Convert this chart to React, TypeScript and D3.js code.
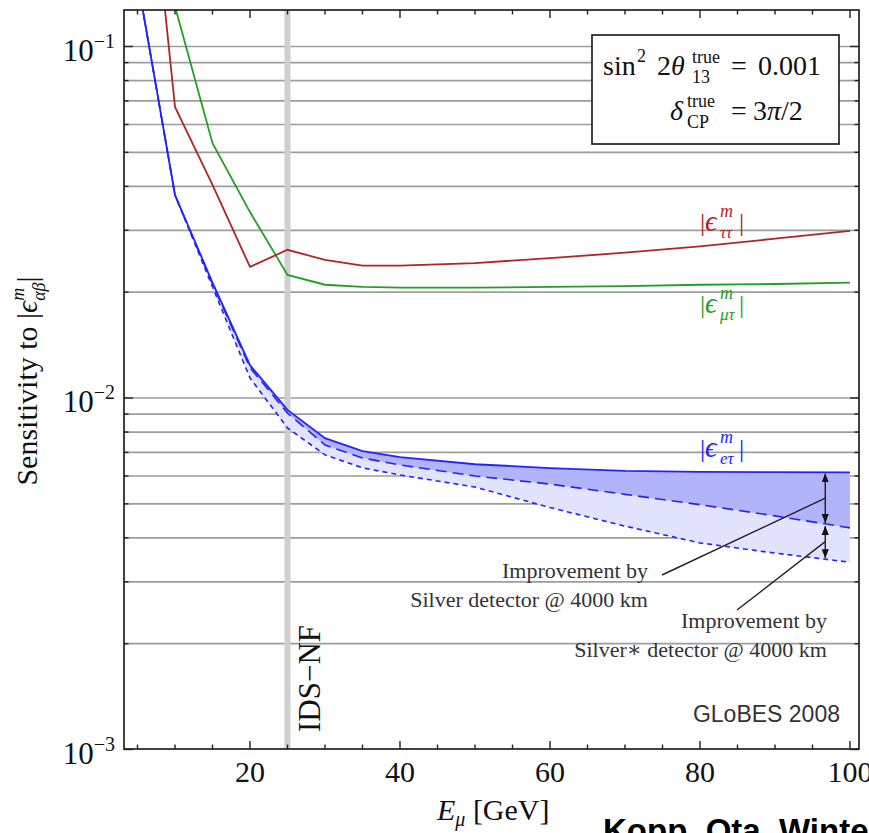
import React from 'react';
import * as d3 from 'd3';

// ---------------- data ----------------
const energies = [5, 10, 15, 20, 25, 30, 35, 40, 50, 60, 70, 80, 90, 100];
const epsTauTau = [0.73, 0.0673, 0.0404, 0.0236, 0.0264, 0.0247, 0.0238, 0.0238, 0.0242, 0.025, 0.0259, 0.027, 0.0284, 0.0299];
const epsMuTau = [0.9, 0.13, 0.0531, 0.0338, 0.0224, 0.021, 0.0207, 0.0206, 0.0206, 0.0207, 0.0208, 0.021, 0.0211, 0.0213];
const epsETau = [0.155, 0.0378, 0.0213, 0.0124, 0.00925, 0.00769, 0.00706, 0.00679, 0.00648, 0.00632, 0.0062, 0.00616, 0.00615, 0.00614];
const epsETauSilver = [0.155, 0.0378, 0.0211, 0.0122, 0.00906, 0.00735, 0.00675, 0.00645, 0.006, 0.00569, 0.00532, 0.00497, 0.00462, 0.00427];
const epsETauSilverStar = [0.155, 0.0378, 0.0207, 0.0114, 0.00822, 0.00689, 0.00633, 0.00604, 0.00558, 0.00488, 0.00432, 0.00387, 0.00362, 0.00341];
const xTickLabels = [20, 40, 60, 80, 100];
const xMinorTicks = [5, 10, 15, 20, 25, 30, 35, 40, 45, 50, 55, 60, 65, 70, 75, 80, 85, 90, 95, 100];
const yDecades = [1e-3, 1e-2, 1e-1];
const yDecadeExponents = ['−3', '−2', '−1'];
const idsNfEnergy = 25;
const arrowEnergy = 96.7;

// ---------------- layout ----------------
const W = 869, H = 833;
const L = 124, R = 859, T = 10, B = 749;
const x = d3.scaleLinear().domain([0, 100]).range([100, 850]);
const y = d3.scaleLog().domain([1e-3, 1e-1]).range([749.5, 46.5]);

const serif = "'Liberation Serif', 'Times New Roman', 'DejaVu Serif', serif";
const sans = "'Liberation Sans', Arial, Helvetica, sans-serif";
const RED = '#b32424';
const GREEN = '#22a022';
const BLUE = '#2323ff';

const gridVals: number[] = [];
for (let e = -3; e <= -1; e++) {
  for (let k = 1; k <= 9; k++) {
    const v = k * Math.pow(10, e);
    if (v > 1e-3 && y(v) >= T) gridVals.push(v);
  }
}

const line = d3.line<number>().x((_, i) => x(energies[i])).y((d) => y(d));
const area = (lo: number[], hi: number[]) =>
  d3.area<number>().x((_, i) => x(energies[i])).y0((_, i) => y(lo[i])).y1((_, i) => y(hi[i]))(hi) || '';

function interpLog(arr: number[], xv: number) {
  for (let i = 0; i < energies.length - 1; i++) {
    if (xv >= energies[i] && xv <= energies[i + 1]) {
      const t = (xv - energies[i]) / (energies[i + 1] - energies[i]);
      return Math.pow(10, Math.log10(arr[i]) * (1 - t) + Math.log10(arr[i + 1]) * t);
    }
  }
  return arr[arr.length - 1];
}

const EpsLabel = ({ cx, yb, sub, color }: { cx: number; yb: number; sub: string; color: string }) => (
  <g fill={color} fontFamily={serif}>
    <text x={cx - 23} y={yb} fontSize={26}>|</text>
    <text x={cx - 18} y={yb} fontSize={29} fontStyle="italic">ϵ</text>
    <text x={cx - 3} y={yb - 14} fontSize={18} fontStyle="italic">m</text>
    <text x={cx - 3} y={yb + 7} fontSize={17} fontStyle="italic">{sub}</text>
    <text x={cx + 16} y={yb} fontSize={26}>|</text>
  </g>
);

export default function App() {
  const ax = x(arrowEnergy);
  const yS = y(interpLog(epsETau, arrowEnergy));
  const yL = y(interpLog(epsETauSilver, arrowEnergy));
  const yStar = y(interpLog(epsETauSilverStar, arrowEnergy));
  const mid1 = (yS + yL) / 2;
  const mid2 = (yL + yStar) / 2;

  return (
    <svg width={W} height={H} style={{ position: 'absolute', left: 0, top: 0, display: 'block', background: '#fff' }}>
      <defs>
        <clipPath id="plotclip">
          <rect x={L} y={T} width={R - L} height={B - T} />
        </clipPath>
        <marker id="ah" viewBox="0 0 10 8" refX={10} refY={4} markerWidth={9} markerHeight={8} markerUnits="userSpaceOnUse" orient="auto-start-reverse">
          <path d="M0,0 L10,4 L0,8 z" fill="#111" />
        </marker>
      </defs>
      <rect x={0} y={0} width={W} height={H} fill="#fff" />

      {/* grid lines */}
      {gridVals.map((v, i) => (
        <line key={'g' + i} x1={L} x2={R} y1={y(v)} y2={y(v)} stroke="#9d9d9d" strokeWidth={1.7} />
      ))}

      {/* IDS-NF vertical band */}
      <line x1={x(idsNfEnergy)} x2={x(idsNfEnergy)} y1={T} y2={B} stroke="#cfcfcf" strokeWidth={6} />

      <g clipPath="url(#plotclip)">
        <path d={area(epsETauSilverStar, epsETau)} fill="#e2e3ff" />
        <path d={area(epsETauSilver, epsETau)} fill="#b2b4fb" />
        <path d={line(epsETauSilverStar) || ''} fill="none" stroke={BLUE} strokeWidth={1.6} strokeDasharray="5,4" />
        <path d={line(epsETauSilver) || ''} fill="none" stroke={BLUE} strokeWidth={1.6} strokeDasharray="11,6" />
        <path d={line(epsETau) || ''} fill="none" stroke={BLUE} strokeWidth={1.8} />
        <path d={line(epsMuTau) || ''} fill="none" stroke={GREEN} strokeWidth={1.8} />
        <path d={line(epsTauTau) || ''} fill="none" stroke={RED} strokeWidth={1.8} />
      </g>

      {/* curve labels */}
      <EpsLabel cx={723} yb={231} sub="ττ" color={RED} />
      <EpsLabel cx={723} yb={313} sub="μτ" color={GREEN} />
      <EpsLabel cx={723} yb={457} sub="eτ" color={BLUE} />

      {/* improvement arrows */}
      <line x1={ax} x2={ax} y1={yS + 1} y2={yL - 1} stroke="#111" strokeWidth={1.3} markerStart="url(#ah)" markerEnd="url(#ah)" />
      <line x1={ax} x2={ax} y1={yL + 2} y2={yStar - 1} stroke="#111" strokeWidth={1.3} markerStart="url(#ah)" markerEnd="url(#ah)" />
      <line x1={662} y1={575} x2={ax} y2={mid1} stroke="#222" strokeWidth={1.4} />
      <line x1={737} y1={610} x2={ax} y2={mid2} stroke="#222" strokeWidth={1.4} />
      <g fontFamily={serif} fontSize={22} fill="#333" textAnchor="end">
        <text x={648} y={578}>Improvement by</text>
        <text x={648} y={607}>Silver detector @ 4000 km</text>
        <text x={827} y={628}>Improvement by</text>
        <text x={827} y={657}>Silver∗ detector @ 4000 km</text>
      </g>

      {/* IDS-NF label */}
      <text transform={`translate(320,732) rotate(-90)`} fontFamily={serif} fontSize={31} fill="#111">IDS−NF</text>

      {/* GLoBES */}
      <text x={840} y={722} fontFamily={sans} fontSize={23} fill="#333" textAnchor="end">GLoBES 2008</text>

      {/* legend box */}
      <rect x={592} y={35} width={247} height={109} fill="#fff" stroke="#222" strokeWidth={1.7} />
      <g fontFamily={serif} fill="#111">
        <text x={603} y={75} fontSize={28}>sin</text>
        <text x={637} y={62} fontSize={18}>2</text>
        <text x={657} y={75} fontSize={28}>2<tspan fontStyle="italic">θ</tspan></text>
        <text x={692} y={63} fontSize={18}>true</text>
        <text x={692} y={83} fontSize={18}>13</text>
        <text x={731} y={75} fontSize={28}>=</text>
        <text x={758} y={75} fontSize={28}>0.001</text>
        <text x={670} y={120} fontSize={28} fontStyle="italic">δ</text>
        <text x={687} y={107} fontSize={18}>true</text>
        <text x={687} y={128} fontSize={18}>CP</text>
        <text x={731} y={120} fontSize={28}>=</text>
        <text x={753} y={120} fontSize={28}>3<tspan fontStyle="italic">π</tspan>/2</text>
      </g>

      {/* frame */}
      <rect x={L} y={T} width={R - L} height={B - T} fill="none" stroke="#222" strokeWidth={1.7} />

      {/* y ticks */}
      {gridVals.concat([1e-3]).map((v, i) => {
        const major = yDecades.some((d) => Math.abs(d - v) / d < 1e-6);
        const len = major ? 9 : 4.5;
        return (
          <g key={'yt' + i} stroke="#222" strokeWidth={1.4}>
            <line x1={L} x2={L + len} y1={y(v)} y2={y(v)} />
            <line x1={R} x2={R - len} y1={y(v)} y2={y(v)} />
          </g>
        );
      })}
      {/* x ticks */}
      {xMinorTicks.map((v, i) => {
        const major = v % 20 === 0;
        const len = major ? 8 : 4.5;
        return (
          <g key={'xt' + i} stroke="#222" strokeWidth={1.4}>
            <line x1={x(v)} x2={x(v)} y1={B} y2={B - len} />
            <line x1={x(v)} x2={x(v)} y1={T} y2={T + len} />
          </g>
        );
      })}

      {/* y tick labels */}
      {yDecades.map((v, i) => (
        <text key={'yl' + i} x={115} y={y(v) + 14} fontFamily={serif} fontSize={31} fill="#111" textAnchor="end">
          10<tspan fontSize={20} dy={-13}>{yDecadeExponents[i]}</tspan>
        </text>
      ))}
      {/* x tick labels */}
      {xTickLabels.map((v, i) => (
        <text key={'xl' + i} x={x(v)} y={782} fontFamily={serif} fontSize={30} fill="#111" textAnchor="middle">{v}</text>
      ))}

      {/* axis titles */}
      <text x={437} y={820} fontFamily={serif} fontSize={30} fill="#111">
        <tspan fontStyle="italic">E</tspan>
        <tspan fontStyle="italic" fontSize={20} dy={6}>μ</tspan>
        <tspan dy={-6}> [GeV]</tspan>
      </text>
      <text transform={`translate(37,381) rotate(-90)`} fontFamily={serif} fontSize={30} fill="#111" textAnchor="middle">
        Sensitivity to |<tspan fontStyle="italic">ϵ</tspan>
        <tspan fontSize={18} fontStyle="italic" dy={-13}>m</tspan>
        <tspan fontSize={18} fontStyle="italic" dx={-13} dy={21}>αβ</tspan>
        <tspan dy={-8}>|</tspan>
      </text>

      {/* citation (cut at the right/bottom edges as in the source slide) */}
      <text x={603} y={842} fontFamily={sans} fontWeight="bold" fontSize={33} fill="#000">Kopp, Ota, Winter</text>
    </svg>
  );
}
